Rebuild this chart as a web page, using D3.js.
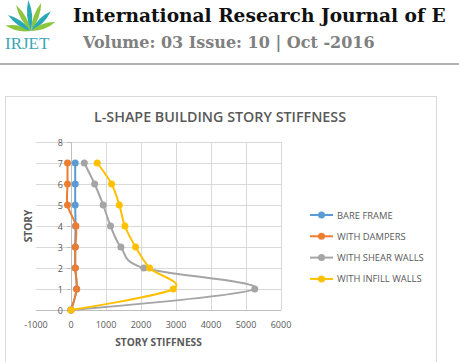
<!DOCTYPE html>
<html>
<head>
<meta charset="utf-8">
<script src="https://cdn.jsdelivr.net/npm/d3@7"></script>
<style>
  body { margin: 0; background: #fff; }
</style>
</head>
<body>
<div id="chart"></div>
<script>
// story stiffness per floor
const stories = [0, 1, 2, 3, 4, 5, 6, 7];
const bareFrame = [0, 160, 120, 120, 130, 120, 120, 120];
const withDampers = [0, 160, 125, 125, 140, -100, -100, -100];
const withShearWalls = [0, 5250, 2080, 1425, 1130, 920, 675, 380];
const withInfillWalls = [0, 2920, 2245, 1845, 1540, 1380, 1160, 750];
const seriesNames = ['BARE FRAME', 'WITH DAMPERS', 'WITH SHEAR WALLS', 'WITH INFILL WALLS'];
const seriesColors = ['#5b9bd5', '#ed7d31', '#a5a5a5', '#ffc000'];
const xTicks = [-1000, 0, 1000, 2000, 3000, 4000, 5000, 6000];
const yTicks = [0, 1, 2, 3, 4, 5, 6, 7, 8];

const W = 459, H = 362;
const svg = d3.select('#chart').append('svg')
  .attr('width', W).attr('height', H);

// journal header
const head = svg.append('g');
const leaf = (a, len, col) => {
  const r = a * Math.PI / 180;
  const x0 = 31, y0 = 31;
  const x1 = x0 + Math.cos(r) * len, y1 = y0 - Math.sin(r) * len;
  const nx = -Math.sin(r) * 5, ny = -Math.cos(r) * 5;
  head.append('path')
    .attr('d', `M${x0},${y0} Q${(x0 + x1) / 2 + nx},${(y0 + y1) / 2 + ny} ${x1},${y1} Q${(x0 + x1) / 2 - nx},${(y0 + y1) / 2 - ny} ${x0},${y0}Z`)
    .attr('fill', col);
};
[[168, 26, '#8cc63f'], [145, 28, '#29a8b8'], [120, 30, '#8cc63f'], [95, 31, '#29a8b8'],
 [70, 30, '#8cc63f'], [45, 28, '#29a8b8'], [20, 26, '#8cc63f']].forEach(d => leaf(...d));
head.append('text').attr('x', 5).attr('y', 49)
  .attr('font-family', 'Liberation Serif').attr('font-size', 17)
  .attr('fill', '#3aa6b9').text('IRJET');
head.append('text').attr('x', 73).attr('y', 22)
  .attr('font-family', 'DejaVu Serif').attr('font-weight', 'bold')
  .attr('font-size', 18.6).attr('fill', '#111').text('International Research Journal of E');
head.append('text').attr('x', 83).attr('y', 48)
  .attr('font-family', 'DejaVu Serif').attr('font-weight', 'bold')
  .attr('font-size', 16).attr('fill', '#808080').text('Volume: 03 Issue: 10 | Oct -2016');
head.append('line').attr('x1', 0).attr('x2', W).attr('y1', 64).attr('y2', 64)
  .attr('stroke', '#9a9a9a').attr('stroke-width', 1.5);

// chart frame
svg.append('rect').attr('x', 5.5).attr('y', 96.5).attr('width', 431).attr('height', 280)
  .attr('fill', '#fff').attr('stroke', '#d9d9d9');

svg.append('text').attr('x', 220).attr('y', 122).attr('text-anchor', 'middle')
  .attr('font-family', 'Open Sans').attr('font-weight', 600).attr('font-size', 14.3)
  .attr('fill', '#595959')
  .text('L-SHAPE BUILDING STORY STIFFNESS');

const x = d3.scaleLinear().domain([-1000, 6000]).range([36, 281]);
const y = d3.scaleLinear().domain([0, 8]).range([310, 142]);

const g = svg.append('g');
// gridlines
g.selectAll('.hg').data(yTicks.filter(d => d > 0)).enter().append('line')
  .attr('x1', x(-1000)).attr('x2', x(6000))
  .attr('y1', d => Math.round(y(d)) + 0.5).attr('y2', d => Math.round(y(d)) + 0.5)
  .attr('stroke', '#d9d9d9');
g.selectAll('.vg').data(xTicks.filter(d => d > 0)).enter().append('line')
  .attr('x1', d => Math.round(x(d)) + 0.5).attr('x2', d => Math.round(x(d)) + 0.5)
  .attr('y1', y(0)).attr('y2', y(8))
  .attr('stroke', '#d9d9d9');
// axes crossing at zero
g.append('line').attr('x1', x(-1000)).attr('x2', x(6000))
  .attr('y1', Math.round(y(0)) + 0.5).attr('y2', Math.round(y(0)) + 0.5).attr('stroke', '#bfbfbf');
g.append('line').attr('x1', Math.round(x(0)) + 0.5).attr('x2', Math.round(x(0)) + 0.5)
  .attr('y1', y(0)).attr('y2', y(8)).attr('stroke', '#bfbfbf');
g.selectAll('.yt').data(yTicks).enter().append('line')
  .attr('x1', x(0) - 4).attr('x2', x(0))
  .attr('y1', d => Math.round(y(d)) + 0.5).attr('y2', d => Math.round(y(d)) + 0.5)
  .attr('stroke', '#bfbfbf');

g.selectAll('.yl').data(yTicks).enter().append('text')
  .attr('x', x(0) - 8).attr('y', d => y(d) + 3.5).attr('text-anchor', 'end')
  .attr('font-family', 'Open Sans').attr('font-size', 9).attr('fill', '#595959')
  .text(d => d);
g.selectAll('.xl').data(xTicks).enter().append('text')
  .attr('x', d => x(d)).attr('y', y(0) + 18).attr('text-anchor', 'middle')
  .attr('font-family', 'Open Sans').attr('font-size', 9).attr('fill', '#595959')
  .text(d => d);

svg.append('text').attr('x', 158.5).attr('y', 346).attr('text-anchor', 'middle')
  .attr('font-family', 'Open Sans').attr('font-weight', 'bold').attr('font-size', 10.2)
  .attr('fill', '#595959').text('STORY STIFFNESS');
svg.append('text').attr('transform', 'translate(32,226) rotate(-90)').attr('text-anchor', 'middle')
  .attr('font-family', 'Open Sans').attr('font-weight', 'bold').attr('font-size', 10.2)
  .attr('fill', '#595959').text('STORY');

// series
const allSeries = [bareFrame, withDampers, withShearWalls, withInfillWalls];
const line = d3.line()
  .x(d => x(d[0])).y(d => y(d[1]))
  .curve(d3.curveCatmullRom.alpha(0));

allSeries.forEach((vals, i) => {
  const pts = vals.map((v, k) => [v, stories[k]]);
  const s = g.append('g');
  s.append('path').datum(pts).attr('d', line)
    .attr('fill', 'none').attr('stroke', seriesColors[i]).attr('stroke-width', 2);
  s.selectAll('circle').data(pts).enter().append('circle')
    .attr('cx', d => x(d[0])).attr('cy', d => y(d[1])).attr('r', 3.5)
    .attr('fill', seriesColors[i]);
});

// legend
const lg = svg.append('g');
seriesNames.forEach((name, i) => {
  const ly = 215 + i * 21.3;
  lg.append('line').attr('x1', 310).attr('x2', 333).attr('y1', ly).attr('y2', ly)
    .attr('stroke', seriesColors[i]).attr('stroke-width', 2);
  lg.append('circle').attr('cx', 321.5).attr('cy', ly).attr('r', 3.5).attr('fill', seriesColors[i]);
  lg.append('text').attr('x', 337).attr('y', ly + 3.5)
    .attr('font-family', 'Open Sans').attr('font-size', 9.4).attr('fill', '#595959')
    .text(name);
});
</script>
</body>
</html>
